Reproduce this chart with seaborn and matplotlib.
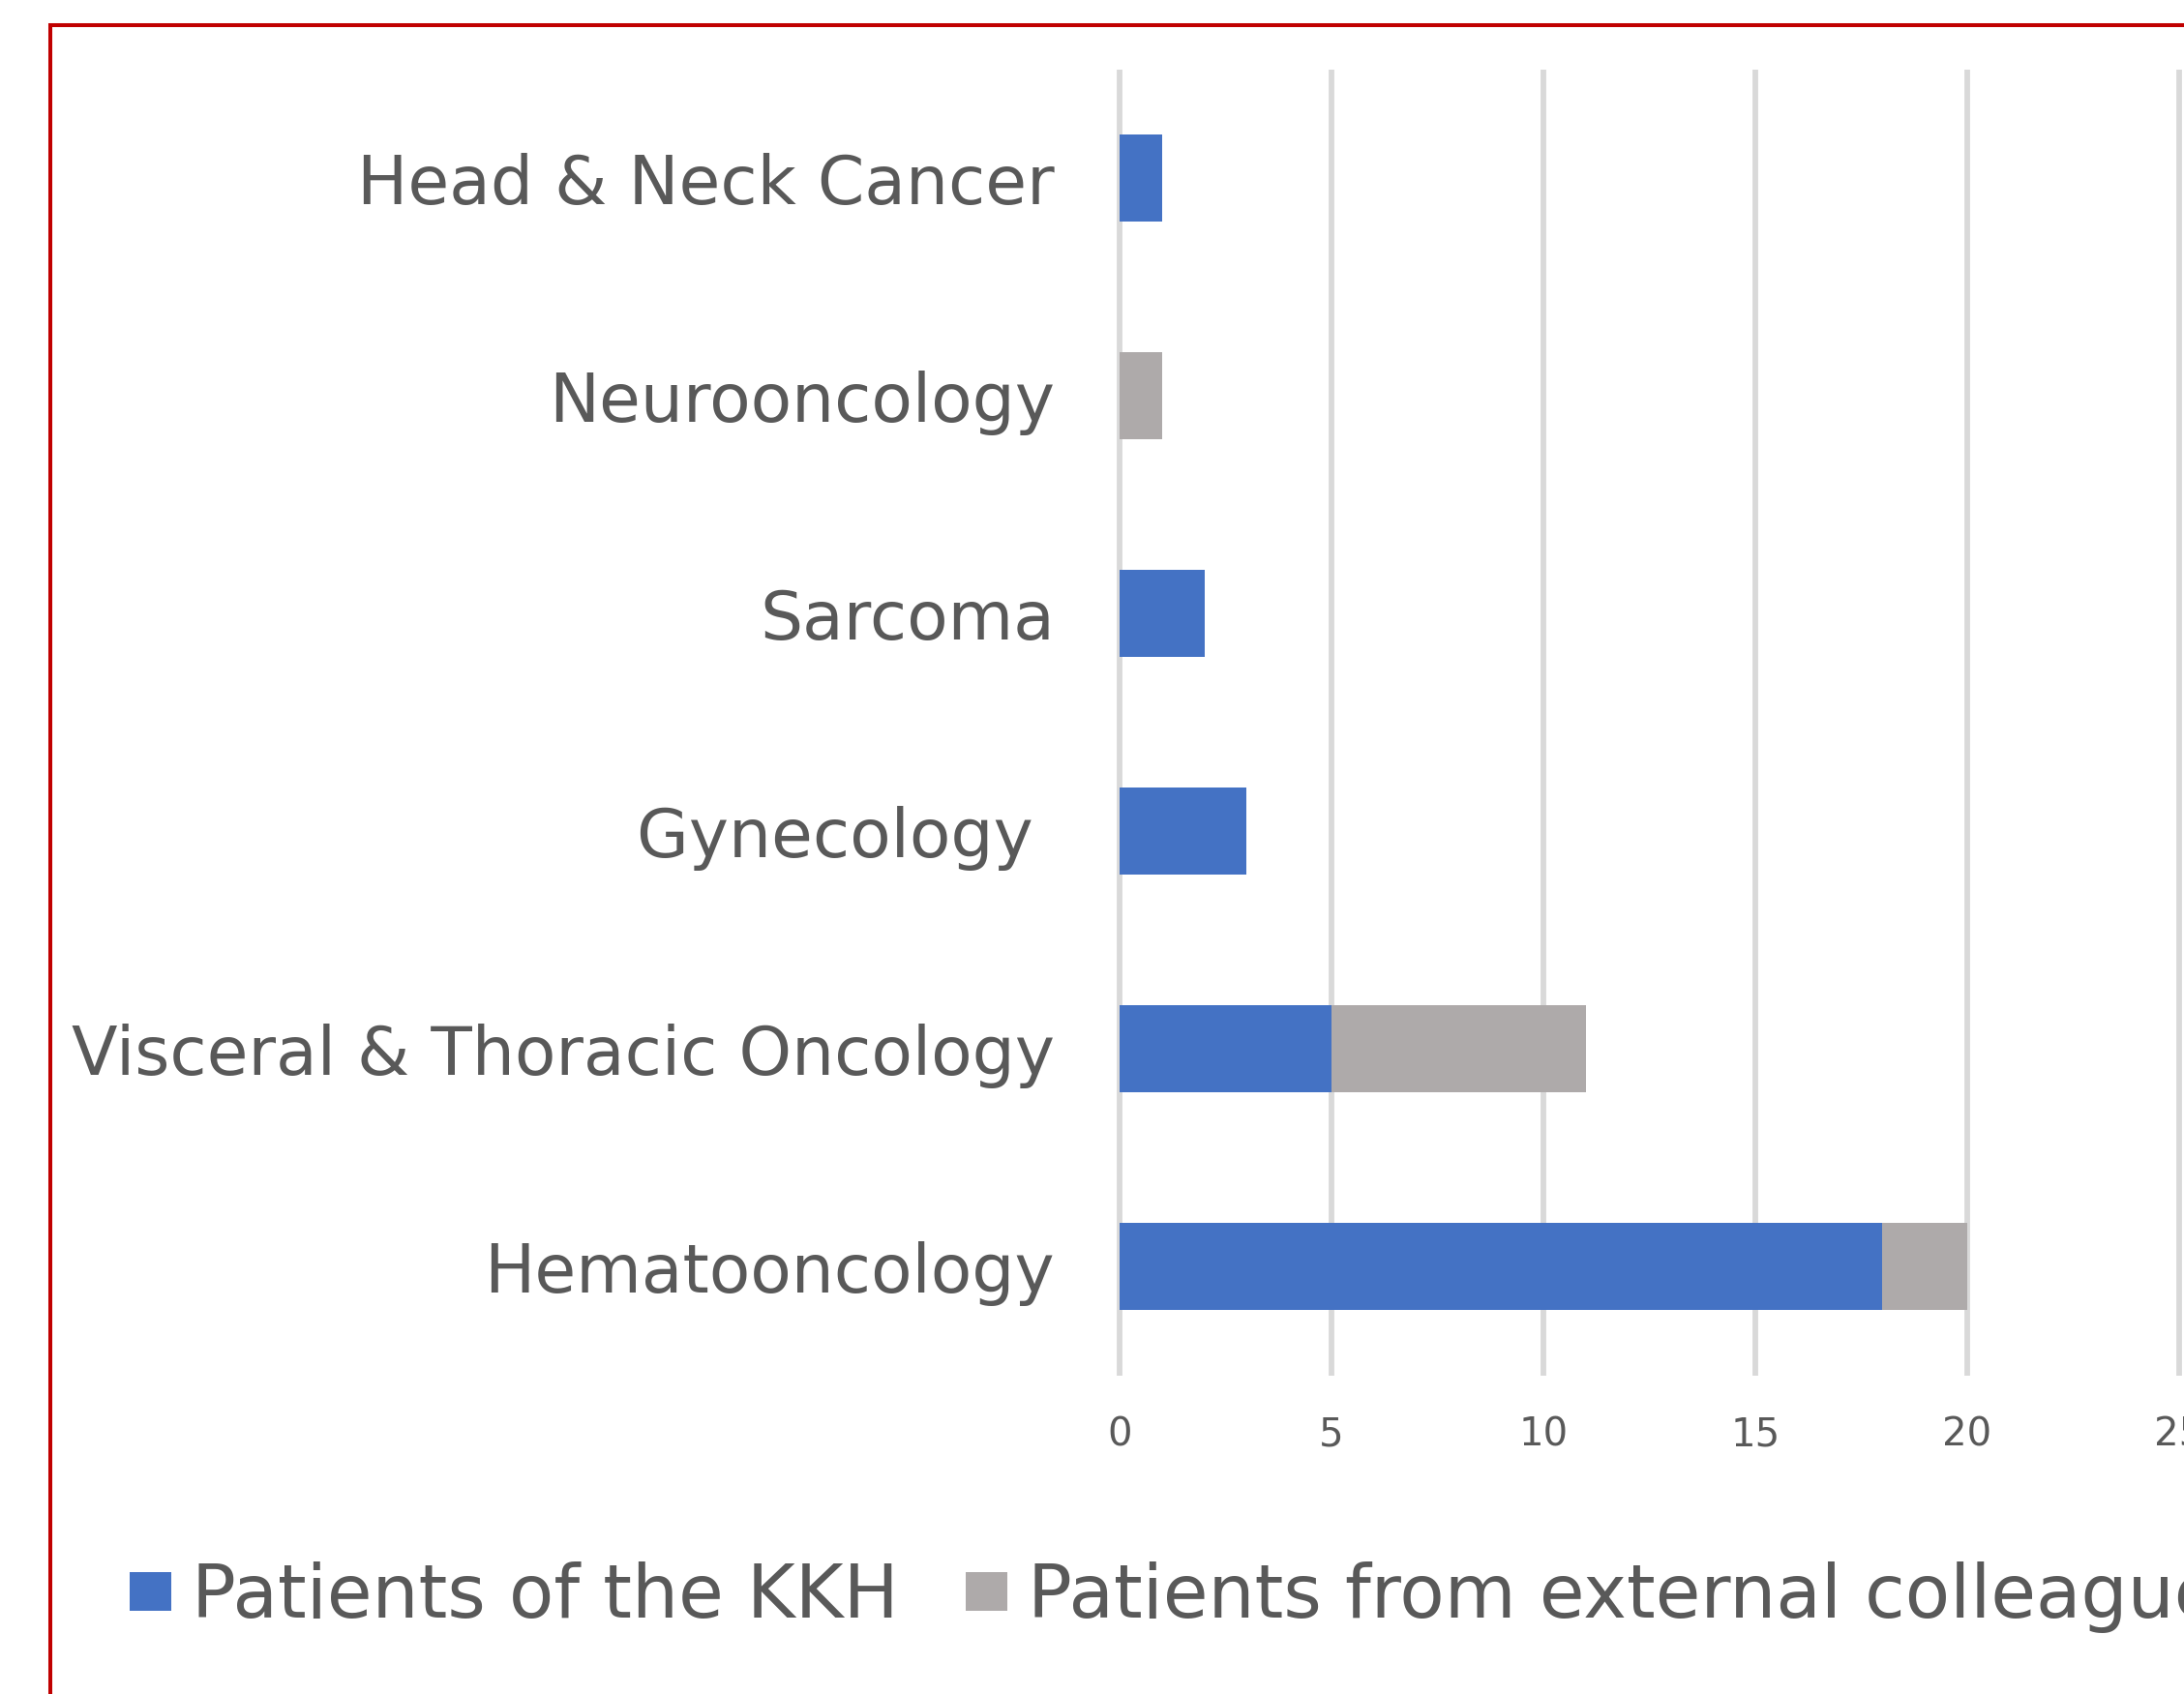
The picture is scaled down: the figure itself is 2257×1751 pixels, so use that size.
import matplotlib
matplotlib.use("Agg")
import matplotlib.pyplot as plt
from matplotlib.patches import Patch
from matplotlib.lines import Line2D
import seaborn as sns
import pandas as pd
import numpy as np

categories = ["Head & Neck Cancer", "Neurooncology", "Sarcoma", "Gynecology ",
              "Visceral & Thoracic Oncology", "Hematooncology"]
kkh = [1, 0, 2, 3, 5, 18]
external = [0, 1, 0, 0, 6, 2]
series_names = ["Patients of the KKH", "Patients from external colleague(s)"]
x_ticks = [0, 5, 10, 15, 20, 25]

BLUE = "#4472C4"
GREY = "#AEAAAA"
TEXT = "#595959"

sns.set_style("white")
plt.rcParams["font.family"] = ["DejaVu Sans"]

W, H = 2257, 1751
fig = plt.figure(figsize=(W / 100, H / 100), dpi=100)

x0_px = 1157.0
px_per_unit = 43.8
xmin, xmax = -0.1, (W - x0_px) / px_per_unit
left_px = x0_px + xmin * px_per_unit
top_px, bottom_px = 72, 1422
ax = fig.add_axes([left_px / W, 1 - bottom_px / H, (W - left_px) / W, (bottom_px - top_px) / H])

df = pd.DataFrame({"category": categories, "kkh": kkh, "external": external})
df["total"] = df["kkh"] + df["external"]

sns.barplot(data=df, x="total", y="category", orient="h", color=GREY,
            width=0.4, saturation=1, linewidth=0, ax=ax, zorder=3)
sns.barplot(data=df, x="kkh", y="category", orient="h", color=BLUE,
            width=0.4, saturation=1, linewidth=0, ax=ax, zorder=4)

ax.set_xlim(xmin, xmax)
ax.set_ylim(len(categories) - 0.5, -0.5)
ax.set_xticks(x_ticks)
ax.set_xlabel("")
ax.set_ylabel("")
for s in ax.spines.values():
    s.set_visible(False)
ax.grid(axis="x", color="#D9D9D9", linewidth=4.2, zorder=0)
ax.grid(axis="y", visible=False)
ax.set_axisbelow(True)
ax.tick_params(axis="x", length=0, pad=30, labelsize=29, labelcolor=TEXT)
ax.tick_params(axis="y", length=0, pad=45, labelsize=50, labelcolor=TEXT)

fs = 54.6
fig.legend(handles=[Patch(color=BLUE, linewidth=0), Patch(color=GREY, linewidth=0)],
           labels=series_names,
           loc="center left", bbox_to_anchor=(134 / W, 1 - 1651 / H),
           ncol=2, frameon=False, fontsize=fs, handlelength=0.567, handleheight=0.45,
           handletextpad=0.28, columnspacing=0.91, borderpad=0, borderaxespad=0,
           labelcolor=TEXT)

# red frame (cropped at right and bottom)
fig.add_artist(Line2D([51.5 / W, 51.5 / W, 1.0], [0.0, 1 - 26 / H, 1 - 26 / H],
                      transform=fig.transFigure, color="#C00000", linewidth=2.9,
                      solid_joinstyle="miter"))

fig.savefig("out.png", dpi=100)
